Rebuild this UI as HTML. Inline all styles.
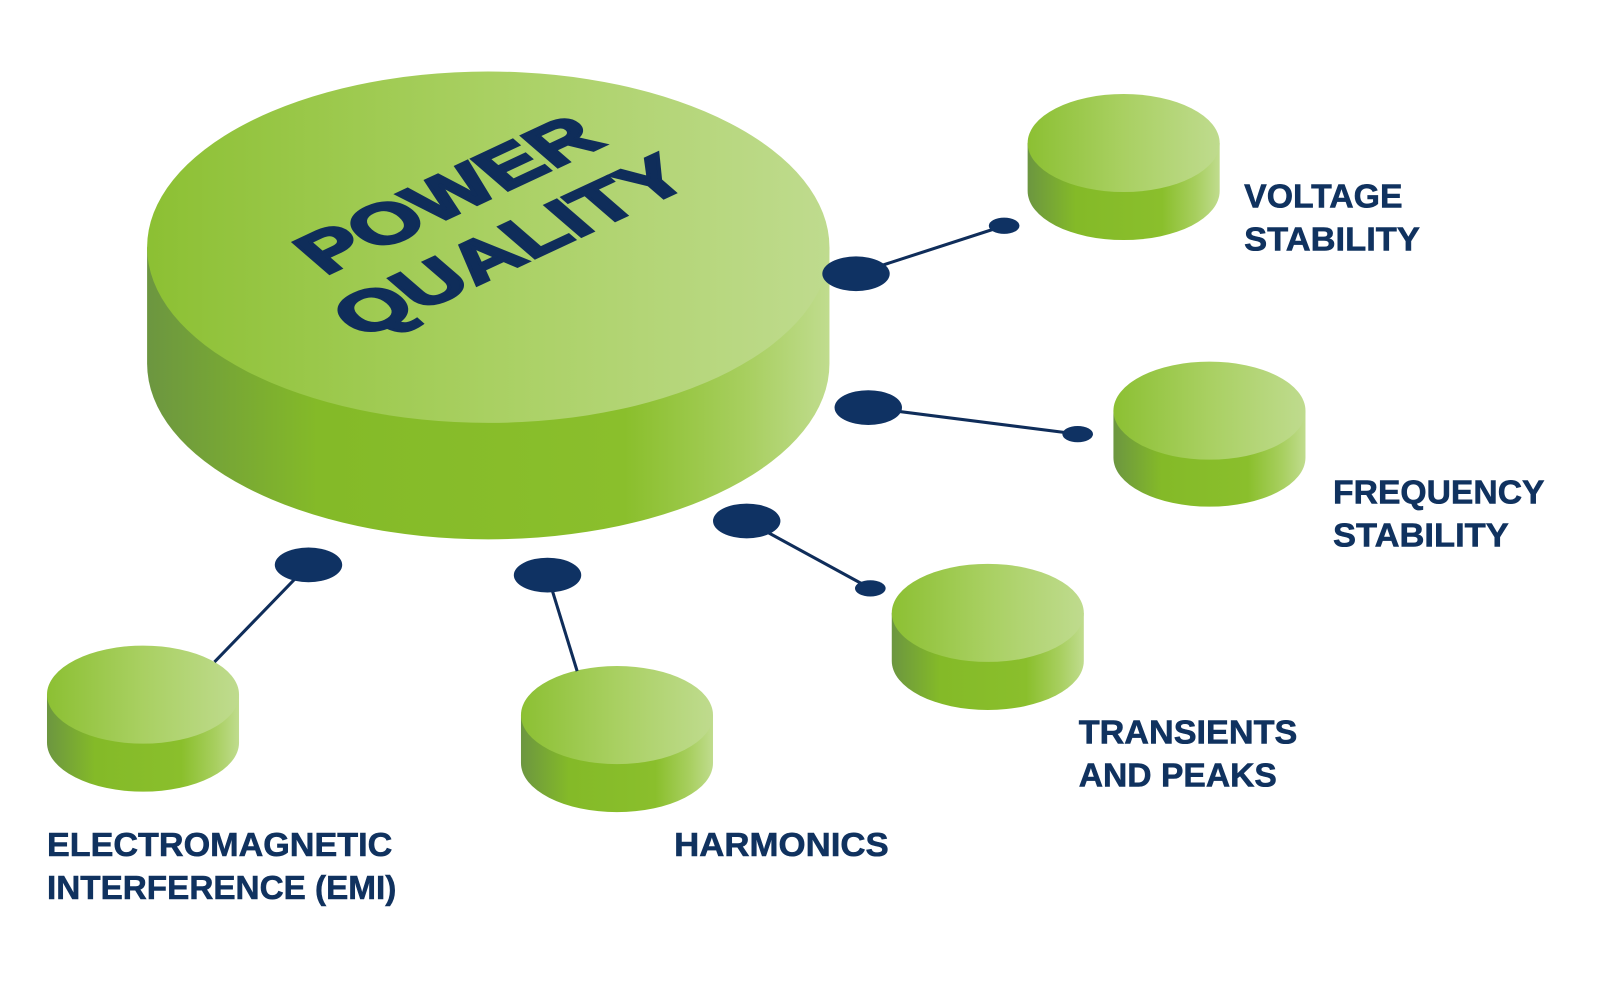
<!DOCTYPE html>
<html><head><meta charset="utf-8"><style>
html,body{margin:0;padding:0;background:#fff;}
svg{display:block}
</style></head><body>
<svg width="1601" height="1001" viewBox="0 0 1601 1001" xmlns="http://www.w3.org/2000/svg">
<defs>
<linearGradient id="top" x1="0" x2="1" y1="0" y2="0">
<stop offset="0" stop-color="#8cc033"/><stop offset="0.5" stop-color="#a9d062"/><stop offset="1" stop-color="#bfdb8e"/>
</linearGradient>
<linearGradient id="side" x1="0" x2="1" y1="0" y2="0">
<stop offset="0" stop-color="#6c9640"/><stop offset="0.25" stop-color="#84ba28"/><stop offset="0.7" stop-color="#8abf2c"/><stop offset="0.88" stop-color="#a8cf60"/><stop offset="1" stop-color="#c0dc8e"/>
</linearGradient>
</defs>
<g transform="scale(1.0215)" font-family="Liberation Sans, sans-serif" font-weight="bold">
<path d="M144 242 L144 356 A334 172 0 0 0 812 356 L812 242 Z" fill="url(#side)"/>
<ellipse cx="478" cy="242" rx="334" ry="172" fill="url(#top)"/>
<g fill="#0f2d5a" stroke="#0f2d5a" stroke-width="3" font-size="68">
<text transform="matrix(0.906,-0.423,0.757,0.653,318,270)" x="0" y="0" textLength="305" lengthAdjust="spacingAndGlyphs">POWER</text>
<text transform="matrix(0.906,-0.423,0.757,0.653,354,332)" x="0" y="0" textLength="360" lengthAdjust="spacingAndGlyphs">QUALITY</text>
</g>

<path d="M1006 140 L1006 187 A94 48 0 0 0 1194 187 L1194 140 Z" fill="url(#side)"/><ellipse cx="1100" cy="140" rx="94" ry="48" fill="url(#top)"/>
<path d="M1090 402 L1090 448 A94 48 0 0 0 1278 448 L1278 402 Z" fill="url(#side)"/><ellipse cx="1184" cy="402" rx="94" ry="48" fill="url(#top)"/>
<path d="M873 600 L873 647 A94 48 0 0 0 1061 647 L1061 600 Z" fill="url(#side)"/><ellipse cx="967" cy="600" rx="94" ry="48" fill="url(#top)"/>
<path d="M510 700 L510 747 A94 48 0 0 0 698 747 L698 700 Z" fill="url(#side)"/><ellipse cx="604" cy="700" rx="94" ry="48" fill="url(#top)"/>
<path d="M46 680 L46 727 A94 48 0 0 0 234 727 L234 680 Z" fill="url(#side)"/><ellipse cx="140" cy="680" rx="94" ry="48" fill="url(#top)"/>

<g stroke="#0f2d5a" stroke-width="3">
<line x1="838" y1="268" x2="983" y2="221"/>
<line x1="850" y1="399" x2="1055" y2="425"/>
<line x1="731" y1="510" x2="852" y2="576"/>
<line x1="302" y1="553" x2="210" y2="648"/>
<line x1="536" y1="563" x2="565" y2="657"/>
</g>
<g fill="#0f3263">
<ellipse cx="838" cy="268" rx="33" ry="17"/>
<ellipse cx="850" cy="399" rx="33" ry="17"/>
<ellipse cx="731" cy="510" rx="33" ry="17"/>
<ellipse cx="302" cy="553" rx="33" ry="17"/>
<ellipse cx="536" cy="563" rx="33" ry="17"/>
<ellipse cx="983" cy="221" rx="15" ry="8"/>
<ellipse cx="1055" cy="425" rx="15" ry="8"/>
<ellipse cx="852" cy="576" rx="15" ry="8"/>
</g>

<g fill="#10325f" font-size="33" stroke="#10325f" stroke-width="0.6">
<text x="1218" y="203" textLength="155" lengthAdjust="spacingAndGlyphs">VOLTAGE</text>
<text x="1218" y="245" textLength="172" lengthAdjust="spacingAndGlyphs">STABILITY</text>
<text x="1305" y="493" textLength="207" lengthAdjust="spacingAndGlyphs">FREQUENCY</text>
<text x="1305" y="535" textLength="172" lengthAdjust="spacingAndGlyphs">STABILITY</text>
<text x="1056" y="728" textLength="214" lengthAdjust="spacingAndGlyphs">TRANSIENTS</text>
<text x="1056" y="770" textLength="194" lengthAdjust="spacingAndGlyphs">AND PEAKS</text>
<text x="660" y="838" textLength="210" lengthAdjust="spacingAndGlyphs">HARMONICS</text>
<text x="46" y="838" textLength="338" lengthAdjust="spacingAndGlyphs">ELECTROMAGNETIC</text>
<text x="46" y="880" textLength="342" lengthAdjust="spacingAndGlyphs">INTERFERENCE (EMI)</text>
</g>
</g>
</svg>
</body></html>
